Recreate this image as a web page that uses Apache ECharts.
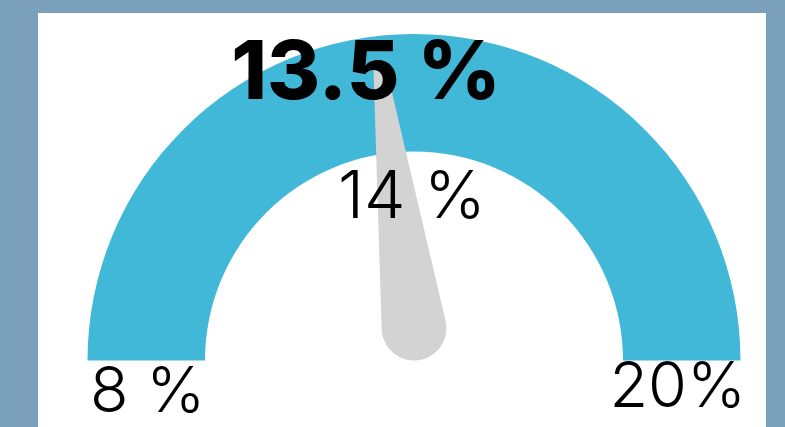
<!DOCTYPE html>
<html>
<head>
<meta charset="utf-8">
<script src="https://cdn.jsdelivr.net/npm/echarts@6/dist/echarts.min.js"></script>
<style>
  html, body { margin: 0; padding: 0; background: #7aa0bc; width: 785px; height: 427px; overflow: hidden; }
  #chart { position: absolute; left: 38px; top: 13px; width: 728px; height: 414px; background: #ffffff; }
</style>
</head>
<body>
<div id="chart"></div>
<script>
// gauge data
const scaleMin = 8;
const scaleMax = 20;
const scaleLabels = ['8 %', '20%'];
const currentValue = 13.5;
const targetValue = 14;

const chart = echarts.init(document.getElementById('chart'));

// tapered needle with round base; the base circle's centre is the pivot
const needle = 'path://M26.2,0 L38.8,0 L65,262.5 A32.5,32.5 0 0 1 0,262.5 Z';

const common = {
  type: 'gauge',
  radius: 326.5,
  startAngle: 180,
  endAngle: 0,
  min: scaleMin,
  max: scaleMax,
  splitNumber: 1,
  axisTick: { show: false },
  splitLine: { show: false, length: 0, distance: 0 },
  anchor: { show: false }
};

chart.setOption({
  animation: false,
  series: [
    Object.assign({}, common, {
      center: [376, 347.5],
      axisLine: {
        lineStyle: { width: 117.5, color: [[1, '#42b8d8']] }
      },
      axisLabel: {
        distance: -5.5,
        color: '#000',
        fontFamily: 'Inter',
        fontWeight: 300,
        fontSize: 63,
        formatter: function (v) {
          return v === scaleMin ? '{lo|' + scaleLabels[0] + '}' : '{hi|' + scaleLabels[1] + '}';
        },
        rich: {
          lo: { fontFamily: 'Inter', fontWeight: 300, fontSize: 63, color: '#000', padding: [66, 0, 0, 8] },
          hi: { fontFamily: 'Inter', fontWeight: 300, fontSize: 63, color: '#000', padding: [56, 0, 0, 0] }
        }
      },
      pointer: { show: false },
      title: { show: false },
      detail: { show: false },
      data: [{ value: currentValue }]
    }),
    Object.assign({}, common, {
      center: [376, 315],
      z: 3,
      axisLine: { show: false },
      axisLabel: { show: false },
      pointer: {
        icon: needle,
        showAbove: false,
        length: 295,
        width: 65,
        offsetCenter: [0, 32.5],
        itemStyle: { color: '#d3d3d3' }
      },
      title: {
        offsetCenter: [-2, -129.5],
        color: '#000',
        fontFamily: 'Inter',
        fontWeight: 300,
        fontSize: 66
      },
      detail: {
        offsetCenter: [-48, -253.5],
        color: '#000',
        fontFamily: 'Inter',
        fontWeight: 800,
        fontSize: 81,
        formatter: '{value} %'
      },
      data: [{ value: currentValue, name: targetValue + ' %' }]
    })
  ]
});
</script>
</body>
</html>
